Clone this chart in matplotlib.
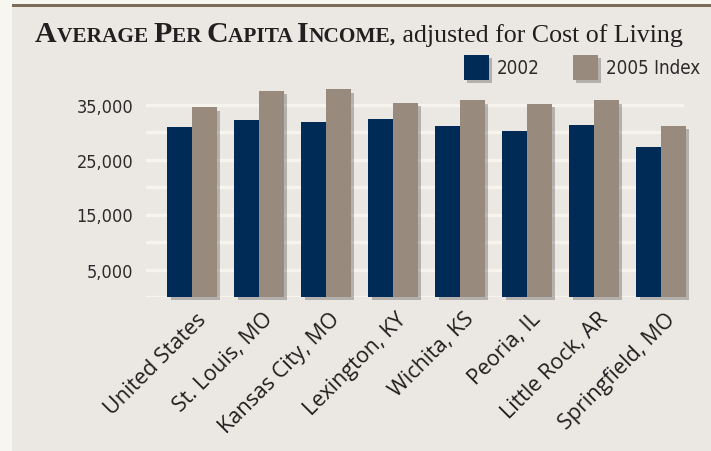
import matplotlib
matplotlib.use("Agg")
import matplotlib.pyplot as plt
import matplotlib.patheffects as pe
from matplotlib.patches import Rectangle
import numpy as np

cities = ["United States", "St. Louis, MO", "Kansas City, MO", "Lexington, KY",
          "Wichita, KS", "Peoria, IL", "Little Rock, AR", "Springfield, MO"]
income_2002 = [30900, 32200, 31800, 32400, 31100, 30200, 31300, 27300]
index_2005 = [34500, 37500, 37800, 35300, 35800, 35100, 35800, 31100]
grid_values = [0, 5000, 10000, 15000, 20000, 25000, 30000, 35000]
tick_labels = ["", "5,000", "", "15,000", "", "25,000", "", "35,000"]

NAVY = "#002b56"
TAN = "#988a7c"
PANEL = "#ebe7e2"
W, H = 711, 452
COND = dict(family="DejaVu Sans", stretch="condensed")

def fx(px):
    return px / W

def fy(py):
    return 1 - py / H

fig = plt.figure(figsize=(W / 100, H / 100), dpi=100)
fig.patch.set_facecolor("#f8f6f1")

# panel background and brown rule on top
fig.patches.append(Rectangle((fx(12), 0), 1 - fx(12), fy(7), transform=fig.transFigure,
                             facecolor=PANEL, edgecolor="none", zorder=-10))
fig.patches.append(Rectangle((fx(12), fy(8)), 1 - fx(12), 3 / H, transform=fig.transFigure,
                             facecolor="#7b6b57", edgecolor="none", zorder=-10))

# axes: value 0 at y=298px, 5.5 px per 1000
ax = fig.add_axes([fx(146), fy(298), fx(684) - fx(146), (298 - 86.25) / H])
ax.set_facecolor("none")
ax.set_ylim(0, 38500)
ax.set_xlim((146 - 192) / 67, (684 - 192) / 67)
for s in ax.spines.values():
    s.set_visible(False)

ax.set_yticks(grid_values)
ax.set_yticklabels(tick_labels, fontsize=13, color="#2b2b2b", **COND)
ax.tick_params(axis="y", length=0, pad=9)
ax.yaxis.grid(True, color="#f7f4ee", linewidth=2.4)
ax.set_axisbelow(True)

x = np.arange(len(cities))
bw = 0.37
shadow = [pe.SimplePatchShadow(offset=(2.5, -2.5), shadow_rgbFace="#333333", alpha=0.3), pe.Normal()]
b1 = ax.bar(x - bw, income_2002, width=bw, align="edge", color=NAVY, zorder=3, clip_on=False)
b2 = ax.bar(x, index_2005, width=bw, align="edge", color=TAN, zorder=3, clip_on=False)
for b in list(b1) + list(b2):
    b.set_path_effects(shadow)

ax.set_xticks(x + 0.05)
ax.set_xticklabels(cities, rotation=45, ha="right", va="top", rotation_mode="anchor",
                   family="Open Sans", fontsize=15.5, color="#1e1e1e")
ax.tick_params(axis="x", length=0, pad=8)

# legend
for px, col, lab in [(464, NAVY, "2002"), (573, TAN, "2005 Index")]:
    r = Rectangle((fx(px), fy(81)), 25 / W, 25 / H, transform=fig.transFigure,
                  facecolor=col, edgecolor="none", zorder=3)
    r.set_path_effects(shadow)
    fig.patches.append(r)
    fig.text(fx(px + 33), fy(69), lab, fontsize=13.5, color="#2b2b2b",
             va="center", ha="left", **COND)

# title with small caps
renderer = fig.canvas.get_renderer()
pieces = [("A", 21.5, "bold"), ("VERAGE ", 15.4, "bold"), ("P", 21.5, "bold"), ("ER ", 15.4, "bold"),
          ("C", 21.5, "bold"), ("APITA ", 15.4, "bold"), ("I", 21.5, "bold"), ("NCOME,", 15.4, "bold"),
          (" adjusted for Cost of Living", 18.6, "normal")]
xpos = 35
for txt, size, weight in pieces:
    t = fig.text(fx(xpos), fy(42), txt, family="Liberation Serif", fontsize=size,
                 fontweight=weight, color="#231f20", ha="left", va="baseline")
    xpos += t.get_window_extent(renderer).width

fig.savefig("out.png", dpi=100, facecolor=fig.get_facecolor())
